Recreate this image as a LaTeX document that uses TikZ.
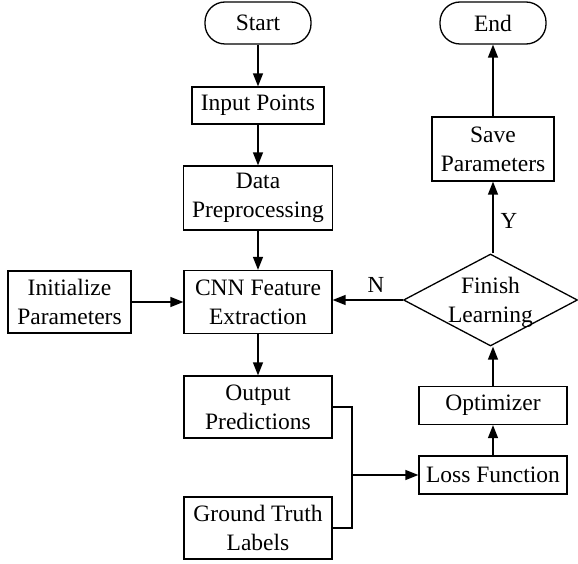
\documentclass[tikz,border=0pt]{standalone}
\usepackage{fontspec}
\setmainfont{Liberation Serif}
\usetikzlibrary{arrows.meta,shapes.geometric}
\begin{document}
\begin{tikzpicture}[x=1pt,y=-1pt,
  every node/.style={font=\fontsize{23.5}{29}\selectfont, align=center, inner sep=0pt},
  box/.style={draw, line width=1.3pt, rectangle},
  term/.style={draw, line width=1.3pt, rectangle, rounded corners=20pt},
  dia/.style={draw, line width=1.3pt, diamond},
  conn/.style={line width=1.4pt},
  arr/.style={conn, -{Triangle[length=13pt,width=10pt]}},
  lab/.style={font=\fontsize{23}{28}\selectfont}
]
\useasboundingbox (0,0) rectangle (578,564);
\node[term, minimum width=106pt, minimum height=42pt] (start) at (258,23) {Start};
\node[box, minimum width=132pt, minimum height=37pt] (input) at (258,105.5) {Input Points};
\node[box, minimum width=149pt, minimum height=64pt] (prep) at (258,198) {Data\\Preprocessing};
\node[box, minimum width=148pt, minimum height=63pt] (cnn) at (258,302) {CNN Feature\\Extraction};
\node[box, minimum width=123pt, minimum height=62pt] (init) at (69.5,302) {Initialize\\Parameters};
\node[box, minimum width=148pt, minimum height=62pt] (outp) at (258,407) {Output\\Predictions};
\node[box, minimum width=148pt, minimum height=62pt] (gt) at (258,528) {Ground Truth\\Labels};
\node[dia, minimum width=174pt, minimum height=92pt] (fin) at (490.5,300) {};
\node (fintxt) at (490.5,302) {Finish\\Learning};
\node[box, minimum width=122pt, minimum height=64pt] (save) at (493,149) {Save\\Parameters};
\node[term, minimum width=106pt, minimum height=42pt] (end) at (493,23) {End};
\node[box, minimum width=148pt, minimum height=38pt] (opt) at (493,405.5) {Optimizer};
\node[box, minimum width=148pt, minimum height=38pt] (loss) at (493,475) {Loss Function};
\node[lab] (nlab) at (376,285) {N};
\node[lab] (ylab) at (509,221) {Y};
\coordinate (j) at (352,475);
\draw[arr] (start) -- (input);
\draw[arr] (input) -- (prep);
\draw[arr] (prep) -- (cnn);
\draw[arr] (init) -- (cnn);
\draw[arr] (fin.west) -- (fin.west -| cnn.east);
\draw[arr] (cnn) -- (outp);
\draw[conn] (outp.east) -- (outp.east -| j) -- (gt.east -| j) -- (gt.east);
\draw[arr] (j) -- (loss.west);
\draw[arr] (loss) -- (opt);
\draw[arr] (opt.north) -- (opt.north |- fin.south);
\draw[arr] (save.south |- fin.north) -- (save.south);
\draw[arr] (save) -- (end);
\end{tikzpicture}
\end{document}
